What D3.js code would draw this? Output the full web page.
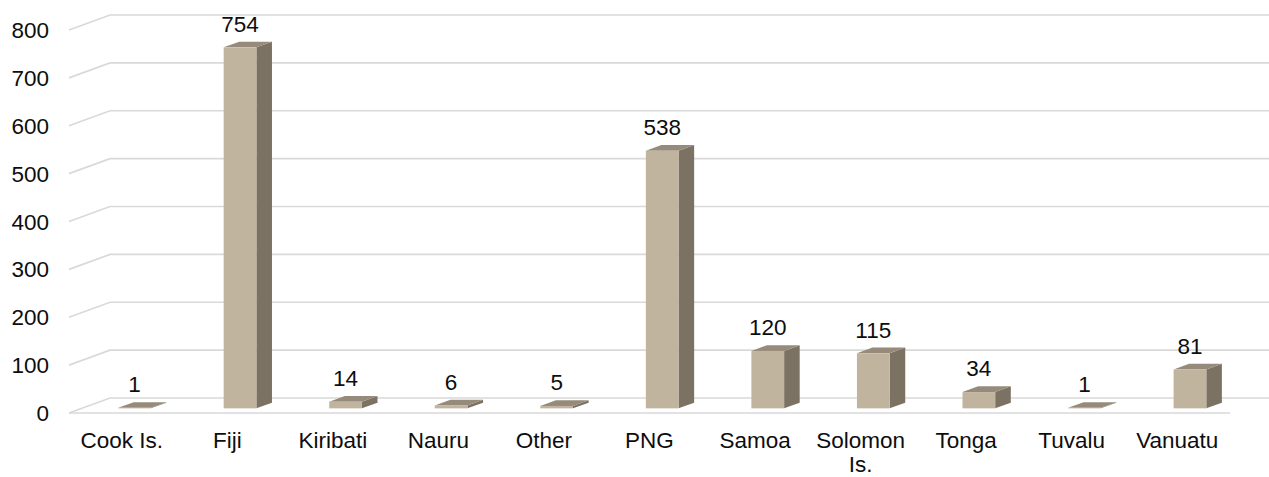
<!DOCTYPE html>
<html>
<head>
<meta charset="utf-8">
<script src="https://cdn.jsdelivr.net/npm/d3@7"></script>
<style>
  html, body { margin: 0; padding: 0; background: #fff; }
  svg text { font-family: "Liberation Sans", Arial, sans-serif; fill: #0d0d0d; }
</style>
</head>
<body>
<div id="wrapper"></div>
<script>
// 1. Data

const categories = ['Cook Is.', 'Fiji', 'Kiribati', 'Nauru', 'Other', 'PNG', 'Samoa', 'Solomon Is.', 'Tonga', 'Tuvalu', 'Vanuatu'];
const values = [1, 754, 14, 6, 5, 538, 120, 115, 34, 1, 81];
const yTicks = [0, 100, 200, 300, 400, 500, 600, 700, 800];

// 2. Dimensions

const dimensions = {
  width: 1269,
  height: 477,
  left: 69,
  right: 1230,
  floorY: 413,
  topY: 30,
  depthX: 41,
  depthY: 15,
};
// bar occupies the middle part of the floor depth
const zFront = 0.31;
const zBack = 0.69;
const fontSize = 22.5;

const colors = {
  front: '#c1b49f',
  side: '#7c7263',
  top: '#968b7a',
  grid: '#d9d9d9',
};

// 3. Canvas

const svg = d3
  .select('#wrapper')
  .append('svg')
  .attr('width', dimensions.width)
  .attr('height', dimensions.height);

// 4. Scales

const xScale = d3
  .scaleBand()
  .domain(categories)
  .range([dimensions.left, dimensions.right])
  .paddingInner(0.69)
  .paddingOuter(0.345);

const yScale = d3
  .scaleLinear()
  .domain([0, 800])
  .range([dimensions.floorY, dimensions.topY]);

// project a point with depth z (0 = front, 1 = back wall)
const px = (x, z) => x + z * dimensions.depthX;
const py = (y, z) => y - z * dimensions.depthY;

// 5. Gridlines (side wall slant + back wall)

const grid = svg.append('g');
grid
  .selectAll('path')
  .data(yTicks)
  .join('path')
  .attr('fill', 'none')
  .attr('stroke', colors.grid)
  .attr('stroke-width', 1.6)
  .attr('d', (d) => {
    const y = yScale(d);
    return d3.line()([
      [dimensions.left, y],
      [px(dimensions.left, 1), py(y, 1)],
      [dimensions.width, py(y, 1)],
    ]);
  });

grid
  .append('line')
  .attr('x1', dimensions.left)
  .attr('x2', dimensions.right)
  .attr('y1', yScale(0))
  .attr('y2', yScale(0))
  .attr('stroke', colors.grid)
  .attr('stroke-width', 1.6);

// 6. Bars

const dz = zBack - zFront;
const ddx = dz * dimensions.depthX;
const ddy = dz * dimensions.depthY;

const bars = svg
  .append('g')
  .selectAll('g')
  .data(categories.map((c, i) => ({ c, v: values[i] })))
  .join('g');

const geom = (d) => {
  const x0 = px(xScale(d.c), zFront);
  const x1 = x0 + xScale.bandwidth();
  const yTop = py(yScale(d.v), zFront);
  const yBot = py(yScale(0), zFront);
  return { x0, x1, yTop, yBot };
};

bars
  .append('path')
  .attr('fill', colors.side)
  .attr('d', (d) => {
    const g = geom(d);
    return d3.line()([
      [g.x1, g.yTop],
      [g.x1 + ddx, g.yTop - ddy],
      [g.x1 + ddx, g.yBot - ddy],
      [g.x1, g.yBot],
    ]) + 'Z';
  });

bars
  .append('path')
  .attr('fill', colors.top)
  .attr('d', (d) => {
    const g = geom(d);
    return d3.line()([
      [g.x0, g.yTop],
      [g.x0 + ddx, g.yTop - ddy],
      [g.x1 + ddx, g.yTop - ddy],
      [g.x1, g.yTop],
    ]) + 'Z';
  });

bars
  .append('rect')
  .attr('fill', colors.front)
  .attr('x', (d) => geom(d).x0)
  .attr('y', (d) => geom(d).yTop)
  .attr('width', xScale.bandwidth())
  .attr('height', (d) => geom(d).yBot - geom(d).yTop);

// value labels
bars
  .append('text')
  .attr('text-anchor', 'middle')
  .attr('font-size', fontSize)
  .attr('x', (d) => (geom(d).x0 + geom(d).x1) / 2)
  .attr('y', (d) => geom(d).yTop - ddy - 10)
  .text((d) => d.v);

// 7. Axes labels

svg
  .append('g')
  .selectAll('text')
  .data(yTicks)
  .join('text')
  .attr('text-anchor', 'end')
  .attr('font-size', fontSize)
  .attr('x', 49)
  .attr('y', (d) => yScale(d) + 8)
  .text((d) => d);

const xLabels = svg
  .append('g')
  .selectAll('text')
  .data(categories)
  .join('text')
  .attr('text-anchor', 'middle')
  .attr('font-size', fontSize)
  .attr('y', 448);

// wrap "Solomon Is." like the original
xLabels.each(function (d) {
  const cx = xScale(d) + xScale.bandwidth() / 2;
  const words = d === 'Solomon Is.' ? ['Solomon', 'Is.'] : [d];
  d3.select(this)
    .selectAll('tspan')
    .data(words)
    .join('tspan')
    .attr('x', cx)
    .attr('dy', (w, i) => (i === 0 ? 0 : 24))
    .text((w) => w);
});
</script>
</body>
</html>
